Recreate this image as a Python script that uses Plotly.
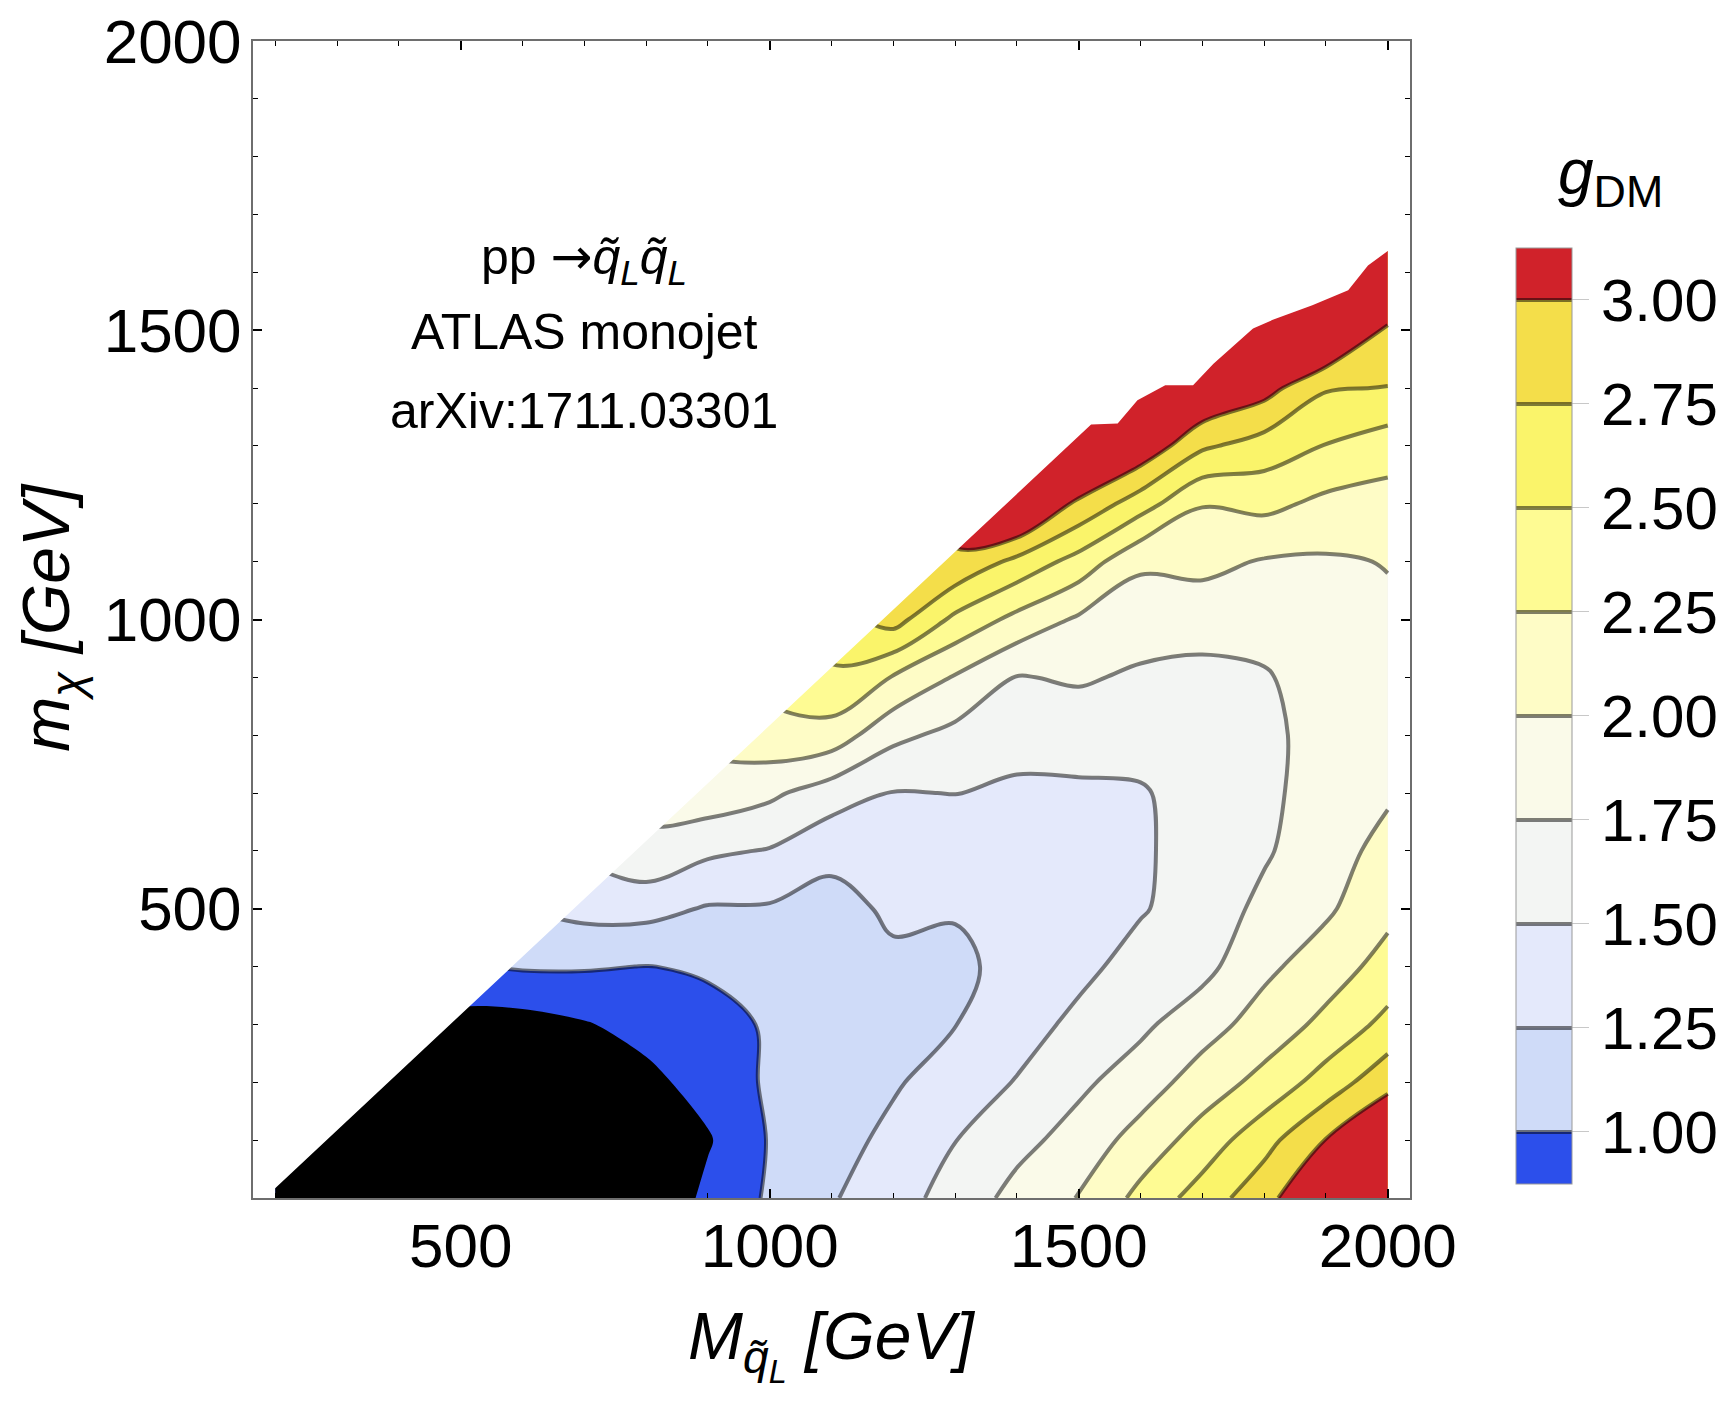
import plotly.graph_objects as go

# ---------------- data ----------------
M_vals = [200, 300, 400, 500, 600, 700, 800, 900, 1000, 1100, 1200, 1300, 1400, 1500, 1600, 1700, 1800, 1900, 2000]
m_vals = [0, 100, 200, 300, 400, 500, 600, 700, 800, 900, 1000, 1100, 1200, 1300, 1400, 1500, 1600, 1700]
N = None
g_dm = [
    [0.6, 0.6, 0.6, 0.6, 0.6, 0.6, 0.6, 0.85, 1.026, 1.228, 1.402, 1.593, 1.833, 2.01, 2.32, 2.613, 2.911, 3.3, 3.4],
    [N, 0.6, 0.6, 0.6, 0.6, 0.6, 0.65, 0.78, 1.014, 1.159, 1.31, 1.495, 1.674, 1.848, 2.10, 2.356, 2.662, 3.009, 3.32],
    [N, N, 0.6, 0.6, 0.6, 0.6, 0.745, 0.88, 1.028, 1.125, 1.224, 1.36, 1.514, 1.70, 1.874, 2.117, 2.325, 2.608, 2.92],
    [N, N, N, 0.72, 0.72, 0.784, 0.87, 0.947, 1.016, 1.091, 1.172, 1.245, 1.396, 1.558, 1.70, 1.895, 2.107, 2.313, 2.574],
    [N, N, N, N, 1.02, 1.018, 0.996, 1.02, 1.065, 1.11, 1.20, 1.20, 1.324, 1.437, 1.59, 1.675, 1.944, 2.13, 2.339],
    [N, N, N, N, N, 1.33, 1.331, 1.229, 1.225, 1.16, 1.295, 1.268, 1.332, 1.414, 1.48, 1.61, 1.811, 1.96, 2.186],
    [N, N, N, N, N, N, 1.697, 1.545, 1.483, 1.32, 1.396, 1.385, 1.362, 1.42, 1.47, 1.59, 1.72, 1.90, 2.074],
    [N, N, N, N, N, N, N, 1.906, 1.799, 1.617, 1.49, 1.504, 1.459, 1.46, 1.48, 1.59, 1.70, 1.85, 1.97],
    [N, N, N, N, N, N, N, N, 2.177, 2.146, 1.811, 1.68, 1.587, 1.606, 1.588, 1.62, 1.70, 1.83, 1.93],
    [N, N, N, N, N, N, N, N, N, 2.468, 2.234, 1.98, 1.738, 1.778, 1.714, 1.68, 1.73, 1.85, 1.93],
    [N, N, N, N, N, N, N, N, N, N, 2.85, 2.44, 2.178, 1.963, 1.864, 1.858, 1.836, 1.90, 1.96],
    [N, N, N, N, N, N, N, N, N, N, N, 2.97, 2.681, 2.405, 2.04, 2.067, 1.981, 1.97, 2.01],
    [N, N, N, N, N, N, N, N, N, N, N, N, 3.45, 2.956, 2.614, 2.262, 2.317, 2.19, 2.152],
    [N, N, N, N, N, N, N, N, N, N, N, N, N, 3.3, 3.2, 2.79, 2.64, 2.49, 2.368],
    [N, N, N, N, N, N, N, N, N, N, N, N, N, N, N, 3.3, 3.1, 2.77, 2.742],
    [N, N, N, N, N, N, N, N, N, N, N, N, N, N, N, N, 3.35, 3.4, 2.971],
    [N, N, N, N, N, N, N, N, N, N, N, N, N, N, N, N, N, N, 3.3],
    [N, N, N, N, N, N, N, N, N, N, N, N, N, N, N, N, N, N, N],
]

# upper edge of the scanned region (above it: no result)
edge_M = [183, 1520, 1563, 1595, 1640, 1685, 1718, 1782, 1814, 1878, 1936, 1968, 2000]
edge_m = [0, 1337, 1339, 1379, 1405, 1405, 1442, 1503, 1518, 1543, 1569, 1612, 1637]

levels_start, levels_end, levels_step = 1.0, 3.0, 0.25
black_below = 0.8
tick_vals = [1.0, 1.25, 1.5, 1.75, 2.0, 2.25, 2.5, 2.75, 3.0]
tick_text = ["1.00", "1.25", "1.50", "1.75", "2.00", "2.25", "2.50", "2.75", "3.00"]
band_colors = ["#2C4FEB", "#CFDBF8", "#E4E9FB", "#F3F5F3", "#FAFAE9",
               "#FEFCC6", "#FEFB93", "#FAF46A", "#F4DE4A", "#D0222A"]

x_range = [164, 2036]
y_range = [0, 2000]
axis_ticks = [500, 1000, 1500, 2000]

FONT = "Liberation Sans, Arial, Helvetica, sans-serif"

colorscale = [[k / (len(band_colors) - 1), c] for k, c in enumerate(band_colors)]

fig = go.Figure()

fig.add_trace(go.Contour(
    x=M_vals, y=m_vals, z=g_dm,
    connectgaps=True,
    autocontour=False,
    contours=dict(start=levels_start, end=levels_end, size=levels_step, coloring="fill"),
    colorscale=colorscale,
    line=dict(color="rgba(0,0,0,0.5)", width=4, smoothing=1),
    colorbar=dict(
        thicknessmode="pixels", thickness=56,
        lenmode="pixels", len=936,
        x=1.0916, xanchor="left", y=0.4166, yanchor="middle",
        xpad=0, ypad=0,
        tickvals=tick_vals, ticktext=tick_text,
        ticks="outside", ticklen=17, tickwidth=1, tickcolor="#c8c8c8",
        tickfont=dict(family=FONT, size=60, color="black"),
        outlinewidth=1, outlinecolor="#999999",
    ),
    hoverinfo="skip",
))

# black region: g below the black threshold
fig.add_trace(go.Contour(
    x=M_vals, y=m_vals, z=g_dm,
    connectgaps=True,
    contours=dict(type="constraint", operation=">", value=black_below),
    fillcolor="black",
    line=dict(width=0, color="rgba(0,0,0,0)"),
    showscale=False,
    hoverinfo="skip",
))

# white mask above the scanned region
fig.add_trace(go.Scatter(
    x=edge_M + [x_range[1], x_range[1], x_range[0], x_range[0]],
    y=edge_m + [edge_m[-1], y_range[1], y_range[1], edge_m[0]],
    fill="toself", fillcolor="white", mode="none",
    showlegend=False, hoverinfo="skip",
))

axis_common = dict(
    showgrid=False, zeroline=False,
    showline=True, linecolor="#6e6e6e", linewidth=2, mirror="allticks",
    ticks="inside", ticklen=9, tickwidth=2, tickcolor="black",
    tickvals=axis_ticks,
    tickfont=dict(family=FONT, size=62, color="black"),
    minor=dict(dtick=100, tick0=0, ticks="inside", ticklen=5, tickwidth=1, tickcolor="black"),
)

fig.update_layout(
    width=1726, height=1409,
    margin=dict(l=253, r=316, t=41, b=211, autoexpand=False),
    paper_bgcolor="white", plot_bgcolor="white",
    showlegend=False,
    xaxis=dict(range=x_range, ticklabelstandoff=-7, **axis_common),
    yaxis=dict(range=y_range, ticklabelstandoff=-3, **axis_common),
    font=dict(family=FONT, color="black"),
)

annots = [
    dict(x=700, y=1621, xref="x", yref="y",
         text="pp <span style='font-family:DejaVu Sans'>→</span><i>q̃</i><sub><i>L</i></sub><i>q̃</i><sub><i>L</i></sub>",
         font=dict(size=50)),
    dict(x=700, y=1497, xref="x", yref="y", text="ATLAS monojet", font=dict(size=50)),
    dict(x=700, y=1360, xref="x", yref="y", text="arXiv:1711.03301", font=dict(size=50)),
    dict(x=0.5, y=-0.127, xref="paper", yref="paper",
         text="<i>M</i><sub><i>q̃</i><sub><i>L</i></sub></sub> <i>[GeV]</i>",
         font=dict(size=66)),
    dict(x=-0.174, y=0.502, xref="paper", yref="paper", textangle=-90,
         text="<i>m</i><sub><i>χ</i></sub> <i>[GeV]</i>",
         font=dict(size=66)),
    dict(x=1.1729, y=0.8833, xref="paper", yref="paper",
         text="<i>g</i><sub>DM</sub>", font=dict(size=64)),
]
for a in annots:
    a.update(showarrow=False, xanchor="center", yanchor="middle")
    a["font"].update(family=FONT, color="black")
    fig.add_annotation(**a)

fig.write_html("out.html")
